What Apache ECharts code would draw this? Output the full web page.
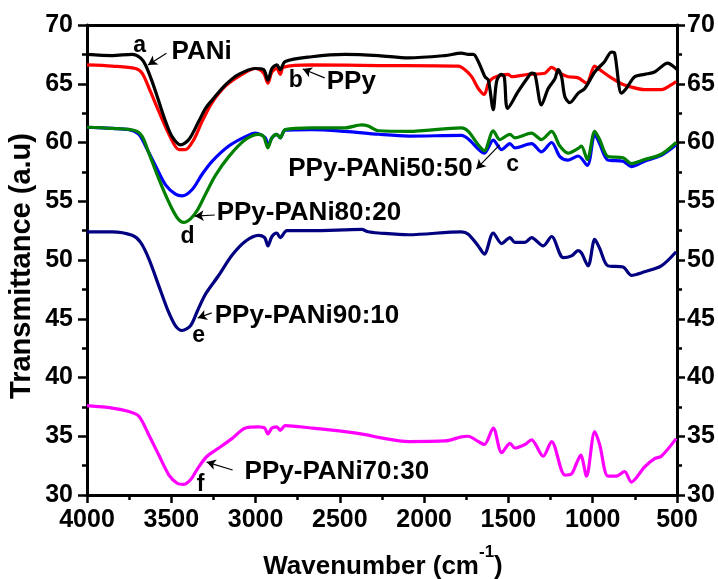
<!DOCTYPE html>
<html>
<head>
<meta charset="utf-8">
<script src="https://cdn.jsdelivr.net/npm/echarts@6/dist/echarts.min.js"></script>
<style>
  html, body { margin: 0; padding: 0; background: #ffffff; }
  #chart { width: 718px; height: 579px; }
</style>
</head>
<body>
<div id="chart"></div>
<script>
// FTIR transmittance spectra (wavenumber in cm-1, transmittance in a.u.)
const paniX = [4000,3850,3732,3682,3653,3614,3574,3534,3495,3445,3396,3337,3297,3258,3179,3100,3001,2952,2927,2903,2874,2854,2824,2667,2470,2271,2093,1876,1779,1738,1708,1679,1639,1619,1590,1570,1544,1525,1505,1442,1382,1363,1343,1304,1264,1225,1205,1185,1165,1136,1086,1047,988,929,889,870,830,801,751,692,633,555,515,500];
const paniY = [67.5,67.4,67.5,67.2,66.6,65.2,63.5,61.8,60.5,59.8,60.25,61.8,62.9,63.6,64.9,65.8,66.3,66.2,65.3,66.3,66.6,66.2,66.9,67.3,67.5,67.4,67.2,67.4,67.6,67.5,67.5,66.9,65.6,65.3,62.8,65.2,65.8,65.6,62.9,64.35,65.6,65.9,65.8,63.2,64.6,65.4,66.2,65.6,63.9,63.4,64.2,64.6,66.0,66.9,67.7,67.6,64.2,64.6,65.6,65.8,66.0,66.75,66.4,66.2];

const ppyX = [4000,3850,3712,3673,3624,3574,3514,3455,3416,3366,3317,3258,3179,3080,3001,2952,2927,2903,2874,2854,2834,2667,2271,1797,1758,1718,1679,1643,1619,1590,1501,1481,1382,1284,1244,1195,1146,1086,1037,988,959,889,830,791,692,593,535,505];
const ppyY = [66.6,66.5,66.3,65.9,64.35,62.65,60.7,59.4,59.4,60.25,61.8,63.4,64.8,65.8,66.3,65.9,65.05,66.0,66.3,65.8,66.4,66.6,66.55,66.5,66.2,65.6,64.6,64.1,65.05,65.5,65.8,65.6,65.8,65.9,66.4,65.9,65.6,65.5,65.05,66.5,66.2,65.5,65.0,64.8,64.5,64.5,64.9,65.2];

const c5050X = [4000,3850,3751,3692,3653,3593,3534,3475,3436,3376,3317,3258,3159,3060,3001,2942,2927,2903,2874,2854,2824,2667,2470,2271,2093,1779,1738,1643,1590,1540,1491,1462,1363,1304,1244,1195,1146,1086,1032,988,959,909,820,771,692,593,505];
const c5050Y = [61.3,61.2,61.1,60.7,59.7,58.0,56.4,55.6,55.45,56.0,57.3,58.4,59.7,60.5,60.8,60.4,59.7,60.4,60.7,60.4,61.05,61.1,60.95,60.7,60.55,60.6,60.3,59.1,60.2,59.4,59.9,59.55,59.9,59.2,60.0,58.8,58.5,58.85,58.05,60.7,59.9,58.5,58.4,57.95,58.4,58.9,59.8];

const c8020X = [4000,3850,3712,3672,3633,3574,3514,3465,3426,3386,3347,3297,3238,3159,3060,2982,2952,2927,2903,2874,2854,2824,2667,2470,2371,2332,2271,2093,1779,1738,1679,1643,1590,1551,1491,1462,1363,1304,1244,1195,1146,1086,1067,1032,988,959,909,820,771,692,593,505];
const c8020Y = [61.3,61.2,61.0,60.5,59.1,56.9,54.9,53.6,53.2,53.5,54.2,55.6,57.2,58.8,60.25,60.7,60.5,59.55,60.4,60.7,60.4,61.1,61.25,61.25,61.5,61.4,61.0,60.95,61.25,60.95,59.8,59.3,61.0,60.25,60.7,60.4,60.8,60.25,60.95,59.7,59.1,59.5,59.7,58.55,60.95,60.25,58.8,58.7,58.2,58.55,59.0,60.0];

const c9010X = [4000,3850,3732,3682,3633,3574,3524,3475,3436,3386,3347,3297,3218,3140,3060,2982,2946,2927,2903,2874,2854,2814,2667,2371,2332,2271,2093,1779,1738,1679,1643,1590,1540,1491,1462,1402,1363,1294,1244,1175,1126,1086,1067,1027,988,959,909,820,771,692,593,505];
const c9010Y = [52.4,52.4,52.1,51.5,50.1,47.8,45.85,44.4,44.0,44.4,45.6,47.1,48.7,50.4,51.6,52.1,51.9,51.2,52.0,52.3,51.9,52.5,52.5,52.6,52.4,52.3,52.15,52.4,52.2,51.2,50.5,52.3,51.4,51.9,51.5,51.5,51.9,51.2,52.0,50.2,50.35,50.8,50.6,49.5,51.75,51.0,49.5,49.4,48.7,49.0,49.5,50.7];

const c7030X = [4000,3850,3751,3692,3633,3574,3514,3465,3430,3386,3337,3288,3218,3140,3060,2982,2946,2927,2903,2874,2854,2824,2667,2470,2332,2271,2093,1876,1779,1738,1679,1643,1590,1540,1491,1462,1402,1363,1294,1244,1165,1126,1096,1071,1037,988,959,909,860,811,771,692,633,593,505];
const c7030Y = [37.6,37.4,37.1,36.7,35.1,33.4,31.7,31.0,30.9,31.3,32.4,33.3,34.0,34.8,35.7,35.8,35.7,35.2,35.7,35.8,35.5,35.9,35.7,35.4,35.1,34.9,34.55,34.6,34.95,35.0,34.55,34.3,35.7,33.6,34.4,34.0,34.3,34.7,33.3,34.55,31.7,31.8,32.7,33.4,31.6,35.4,34.3,31.6,31.6,32.0,31.1,32.4,33.1,33.3,34.8];

// Axis ranges and tick steps
const xMin = 500, xMax = 4000, xStep = 500;
const yMin = 30, yMax = 70, yStep = 5;

const FONT = "'Liberation Sans', Arial, Helvetica, sans-serif";

const pairs = (xs, ys) => xs.map((x, i) => [x, ys[i]]);

const spectra = [
  { name: 'PPy',             xs: ppyX,   ys: ppyY,   color: '#ff0000' },
  { name: 'PANi',            xs: paniX,  ys: paniY,  color: '#000000' },
  { name: 'PPy-PANi50:50',   xs: c5050X, ys: c5050Y, color: '#0000ff' },
  { name: 'PPy-PANi80:20',   xs: c8020X, ys: c8020Y, color: '#008000' },
  { name: 'PPy-PANi90:10',   xs: c9010X, ys: c9010Y, color: '#000080' },
  { name: 'PPy-PANi70:30',   xs: c7030X, ys: c7030Y, color: '#ff00ff' }
];

// Curve labels, placed in data coordinates
const notes = [
  { text: 'a',             at: [3687, 68.2],  size: 23, align: 'center' },
  { text: 'PANi',          at: [3498, 67.7],  size: 26, align: 'left' },
  { text: 'b',             at: [2762, 65.3],  size: 23, align: 'center' },
  { text: 'PPy',           at: [2578, 65.2],  size: 26, align: 'left' },
  { text: 'PPy-PANi50:50', at: [1712, 57.75], size: 26, align: 'right' },
  { text: 'c',             at: [1475, 58.1],  size: 23, align: 'center' },
  { text: 'PPy-PANi80:20', at: [3231, 54.0],  size: 26, align: 'left' },
  { text: 'd',             at: [3403, 52.0],  size: 23, align: 'center' },
  { text: 'PPy-PANi90:10', at: [3242, 45.23], size: 26, align: 'left' },
  { text: 'e',             at: [3337, 43.6],  size: 23, align: 'center' },
  { text: 'PPy-PANi70:30', at: [3065, 31.96], size: 26, align: 'left' },
  { text: 'f',             at: [3326, 30.85], size: 23, align: 'center' }
];

// Pointer arrows from labels to curves: [from, to]
const arrows = [
  [[3529, 67.6], [3638, 66.6]],
  [[2590, 65.5], [2720, 66.26]],
  [[1552, 59.8], [1690, 57.75]],
  [[3242, 53.83], [3361, 53.74]],
  [[3260, 45.5], [3343, 45.06]],
  [[3136, 32.13], [3290, 32.8]]
];

const chart = echarts.init(document.getElementById('chart'), null, { renderer: 'canvas' });

const axisLine = { show: true, lineStyle: { color: '#000', width: 3 } };
const tickStyle = { color: '#000', width: 2.5 };
const labelStyle = {
  color: '#000', fontFamily: FONT, fontWeight: 'bold', fontSize: 25,
  formatter: v => String(v)
};

const seriesList = spectra.map(s => ({
  name: s.name,
  type: 'line',
  xAxisIndex: 0,
  yAxisIndex: 0,
  data: pairs(s.xs, s.ys),
  showSymbol: false,
  symbol: 'none',
  smooth: 0.3,
  lineStyle: { color: s.color, width: 3.2 },
  itemStyle: { color: s.color },
  animation: false
}));

// Arrows drawn as mark lines in data space
seriesList.push({
  type: 'line',
  data: [],
  xAxisIndex: 0,
  yAxisIndex: 0,
  silent: true,
  animation: false,
  markLine: {
    silent: true,
    animation: false,
    symbol: ['none', 'arrow'],
    symbolSize: [8, 9],
    label: { show: false },
    lineStyle: { color: '#000', width: 1.2, type: 'solid' },
    data: arrows.map(a => [{ coord: a[0] }, { coord: a[1] }])
  }
});

chart.setOption({
  animation: false,
  backgroundColor: '#ffffff',
  grid: { left: 87, right: 41, top: 25, bottom: 84, containLabel: false },
  xAxis: [
    {
      type: 'value', position: 'bottom', inverse: true,
      min: xMin, max: xMax, interval: xStep,
      axisLine: axisLine,
      axisTick: { show: true, inside: false, length: 8, lineStyle: tickStyle },
      minorTick: { show: true, splitNumber: 2, length: 5, lineStyle: tickStyle },
      axisLabel: Object.assign({ margin: 13 }, labelStyle),
      splitLine: { show: false }
    },
    {
      type: 'value', position: 'top', inverse: true,
      min: xMin, max: xMax, interval: xStep,
      axisLine: axisLine,
      axisTick: { show: false },
      axisLabel: { show: false },
      splitLine: { show: false }
    }
  ],
  yAxis: [
    {
      type: 'value', position: 'left',
      min: yMin, max: yMax, interval: yStep,
      axisLine: axisLine,
      axisTick: { show: true, inside: false, length: 9, lineStyle: tickStyle },
      minorTick: { show: true, splitNumber: 2, length: 5, lineStyle: tickStyle },
      axisLabel: Object.assign({ margin: 14 }, labelStyle),
      splitLine: { show: false }
    },
    {
      type: 'value', position: 'right',
      min: yMin, max: yMax, interval: yStep,
      axisLine: axisLine,
      axisTick: { show: true, inside: false, length: 8, lineStyle: tickStyle },
      minorTick: { show: true, splitNumber: 2, length: 5, lineStyle: tickStyle },
      axisLabel: Object.assign({ margin: 10 }, labelStyle),
      splitLine: { show: false }
    }
  ],
  series: seriesList
});

// Axis titles and curve labels
const graphics = [
  {
    type: 'text',
    x: 22, y: 266,
    rotation: Math.PI / 2,
    style: {
      text: 'Transmittance (a.u)',
      fill: '#000',
      font: 'bold 29px ' + FONT,
      align: 'center',
      verticalAlign: 'middle'
    }
  },
  {
    type: 'text',
    x: 383, y: 562,
    style: {
      text: '{a|Wavenumber (cm}{s|-1}{a|)}',
      align: 'center',
      verticalAlign: 'middle',
      rich: {
        a: { fontFamily: FONT, fontWeight: 'bold', fontSize: 26, fill: '#000', verticalAlign: 'bottom', lineHeight: 36 },
        s: { fontFamily: FONT, fontWeight: 'bold', fontSize: 17, fill: '#000', verticalAlign: 'top', lineHeight: 36 }
      }
    }
  }
];

notes.forEach(n => {
  const p = chart.convertToPixel({ xAxisIndex: 0, yAxisIndex: 0 }, n.at);
  graphics.push({
    type: 'text',
    x: p[0], y: p[1],
    style: {
      text: n.text,
      fill: '#000',
      font: 'bold ' + n.size + 'px ' + FONT,
      align: n.align,
      verticalAlign: 'middle'
    }
  });
});

chart.setOption({ graphic: graphics });
</script>
</body>
</html>
